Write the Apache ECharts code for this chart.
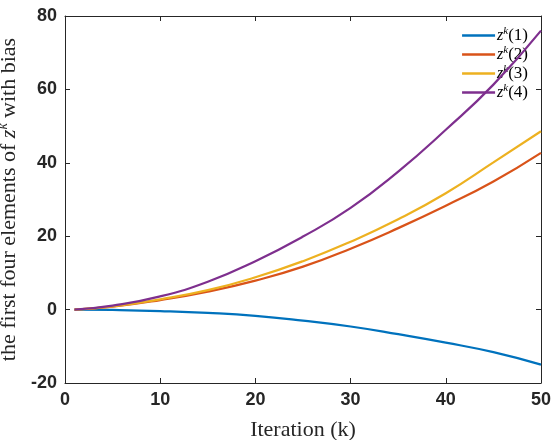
<!DOCTYPE html>
<html><head><meta charset="utf-8">
<script src="https://cdn.jsdelivr.net/npm/echarts@6/dist/echarts.min.js"></script>
<style>html,body{margin:0;padding:0;background:#fff}#c{width:552px;height:440px}</style>
</head><body><div id="c"></div>
<script>
const iterations = [1, 5, 10, 15, 20, 25, 30, 35, 40, 45, 50];
const z1 = [0, -0.1, -0.4, -0.9, -1.7, -3.0, -4.6, -6.7, -9.0, -11.6, -15.0];
const z2 = [0, 0.8, 2.6, 4.9, 7.9, 11.7, 16.6, 22.2, 28.3, 34.9, 42.7];
const z3 = [0, 0.9, 2.8, 5.3, 8.8, 13.2, 18.5, 24.6, 31.7, 40.1, 48.6];
const z4 = [0, 1.1, 3.6, 7.6, 13.2, 19.9, 27.7, 37.6, 49.0, 61.3, 76.0];
const seriesNames = ['z1', 'z2', 'z3', 'z4'];
const seriesIdx = ['1', '2', '3', '4'];
const xTicks = {min: 0, max: 50, interval: 10};
const yTicks = {min: -20, max: 80, interval: 20};
const colors = ['#0072BD', '#D95319', '#EDB120', '#7E2F8E'];
const allData = [z1, z2, z3, z4];

const tickFont = {fontFamily: 'Liberation Sans, Arial', fontWeight: 'bold', fontSize: 18, color: '#262626'};
const serif = 'Liberation Serif, Times New Roman, serif';
const chart = echarts.init(document.getElementById('c'));
chart.setOption({
  animation: false,
  backgroundColor: '#fff',
  grid: {left: 65, right: 11, top: 16, bottom: 57, containLabel: false, outerBoundsMode: 'none'},
  legend: {
    right: 19, top: 21, orient: 'vertical', itemGap: 0, itemWidth: 33, itemHeight: 16,
    icon: 'path://M0,7 L33,7 L33,9.5 L0,9.5 Z',
    data: seriesNames.map((n, i) => ({name: n, itemStyle: {color: colors[i]}})),
    formatter: function (name) {
      const i = seriesNames.indexOf(name);
      return '{z|z}{s|k}{p|(' + seriesIdx[i] + ')}';
    },
    textStyle: {
      padding: [0, 0, 0, -3],
      rich: {
        z: {fontFamily: serif, fontStyle: 'italic', fontSize: 16, color: '#000', lineHeight: 18},
        s: {fontFamily: serif, fontStyle: 'italic', fontSize: 11, color: '#000', padding: [0, 0, 8, 0], lineHeight: 18},
        p: {fontFamily: serif, fontSize: 17, color: '#000', lineHeight: 18}
      }
    }
  },
  xAxis: [{
    type: 'value', min: xTicks.min, max: xTicks.max, interval: xTicks.interval,
    name: 'Iteration (k)', nameLocation: 'middle', nameGap: 36,
    nameTextStyle: {fontFamily: serif, fontSize: 22, color: '#262626'},
    axisLine: {show: true, onZero: false, lineStyle: {color: '#262626', width: 1}},
    axisTick: {show: true, inside: true, length: 5, lineStyle: {color: '#262626'}},
    axisLabel: Object.assign({margin: 8}, tickFont),
    splitLine: {show: false}
  }, {
    type: 'value', position: 'top', min: xTicks.min, max: xTicks.max, interval: xTicks.interval,
    axisLine: {show: true, onZero: false, lineStyle: {color: '#262626', width: 1}},
    axisTick: {show: true, inside: true, length: 5, lineStyle: {color: '#262626'}},
    axisLabel: {show: false}, splitLine: {show: false}
  }],
  yAxis: [{
    type: 'value', min: yTicks.min, max: yTicks.max, interval: yTicks.interval,
    name: '{t|the first four elements of }{z|z}{s|k}{t| with bias}', nameLocation: 'middle', nameGap: 41, nameRotate: 90,
    nameTextStyle: {
      rich: {
        t: {fontFamily: serif, fontSize: 22, color: '#262626'},
        z: {fontFamily: serif, fontStyle: 'italic', fontSize: 22, color: '#262626'},
        s: {fontFamily: serif, fontStyle: 'italic', fontSize: 14, color: '#262626', padding: [0, 0, 11, 0]}
      }
    },
    axisLine: {show: true, onZero: false, lineStyle: {color: '#262626', width: 1}},
    axisTick: {show: true, inside: true, length: 5, lineStyle: {color: '#262626'}},
    axisLabel: Object.assign({margin: 8}, tickFont),
    splitLine: {show: false}
  }, {
    type: 'value', position: 'right', min: yTicks.min, max: yTicks.max, interval: yTicks.interval,
    axisLine: {show: true, onZero: false, lineStyle: {color: '#262626', width: 1}},
    axisTick: {show: true, inside: true, length: 5, lineStyle: {color: '#262626'}},
    axisLabel: {show: false}, splitLine: {show: false}
  }],
  series: allData.map((d, i) => ({
    name: seriesNames[i], type: 'line', smooth: true, showSymbol: false, symbol: 'none',
    data: iterations.map((k, j) => [k, d[j]]),
    lineStyle: {color: colors[i], width: 2.2},
    itemStyle: {color: colors[i]},
    z: 2 + i
  }))
});
</script></body></html>
